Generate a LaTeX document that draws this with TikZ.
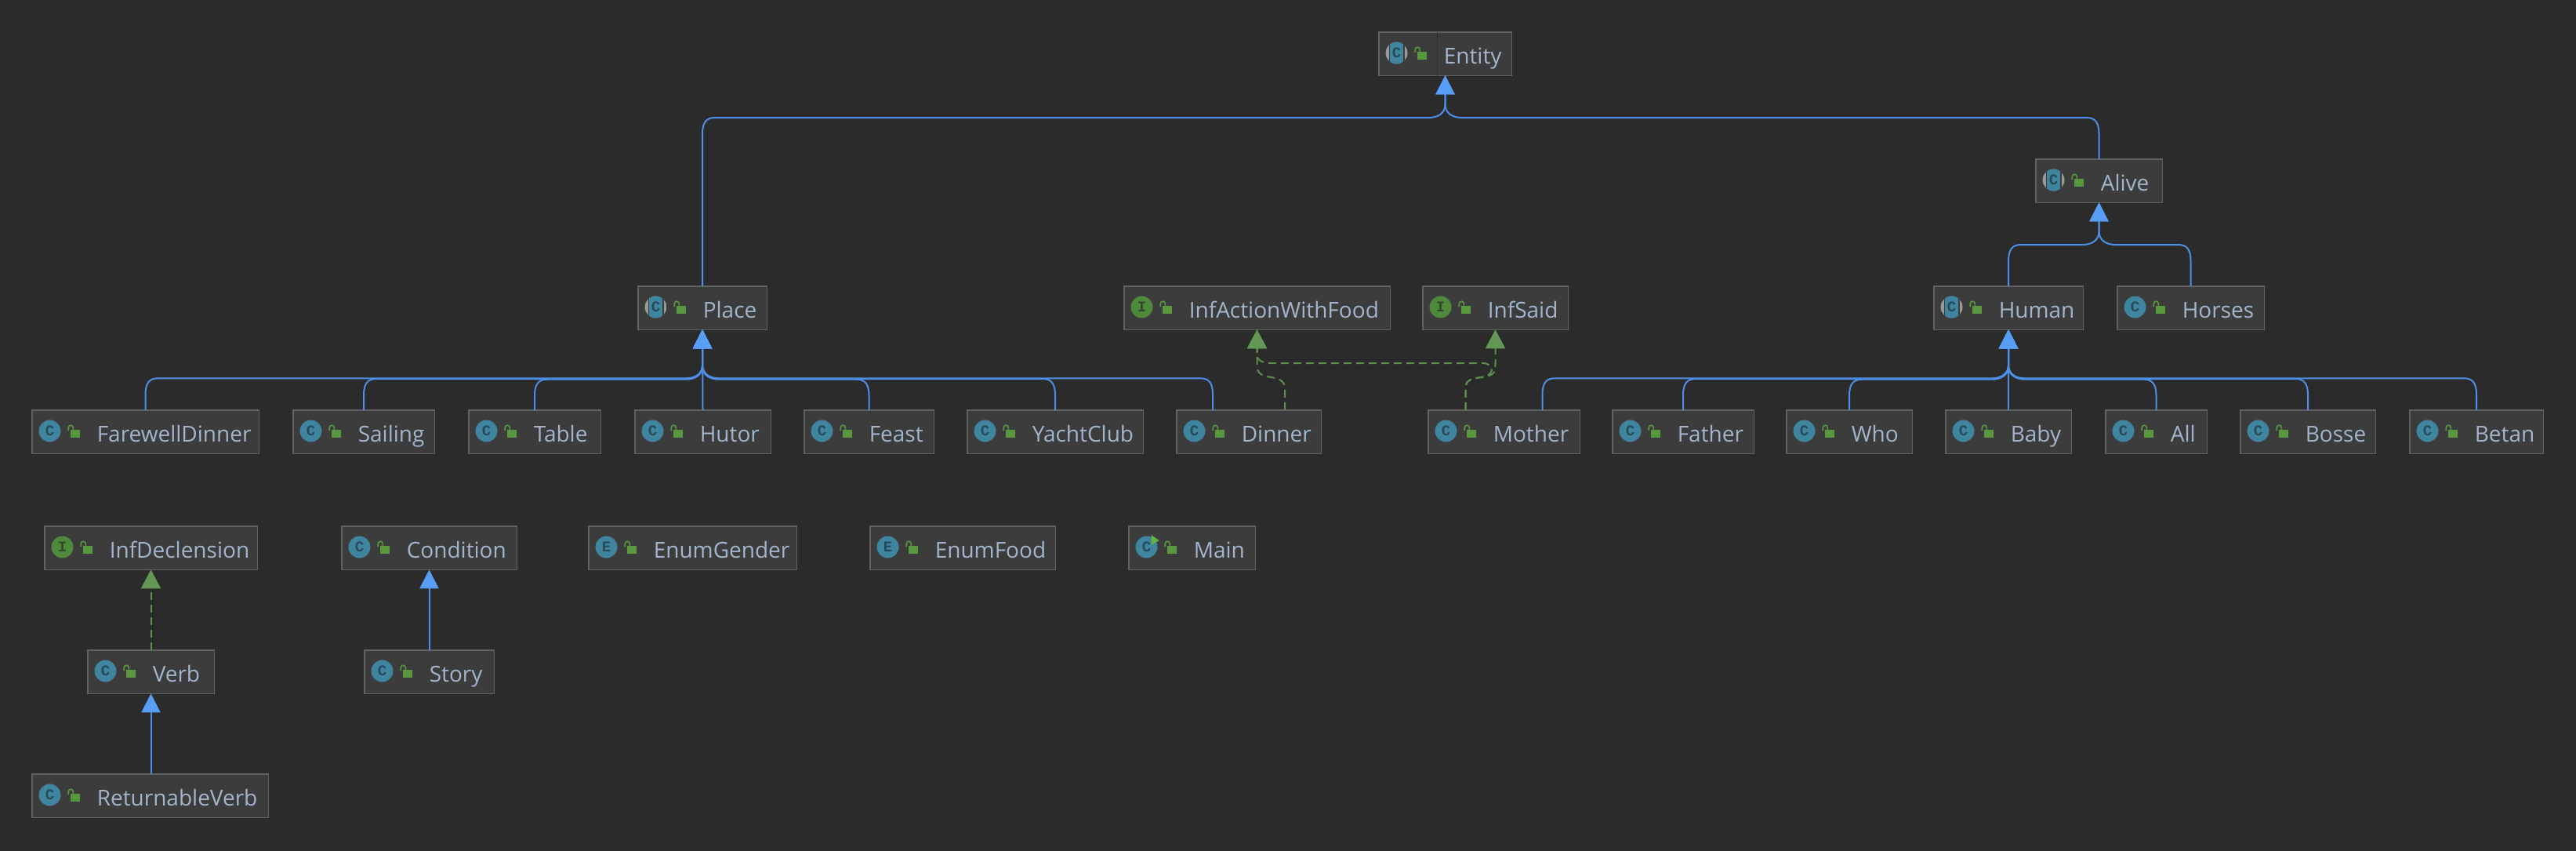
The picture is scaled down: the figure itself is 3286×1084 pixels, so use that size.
\documentclass[tikz,border=0pt]{standalone}
\usepackage{fontspec}
\setmainfont{Open Sans}
\newfontfamily\iconfont{Liberation Mono}
\usetikzlibrary{arrows.meta,calc}
\definecolor{bgc}{HTML}{2B2B2B}
\definecolor{boxfill}{HTML}{3C3C3C}
\definecolor{boxline}{HTML}{626262}
\definecolor{txt}{HTML}{A3B5CC}
\definecolor{bluel}{HTML}{4D8FE6}
\definecolor{blueh}{HTML}{589DF6}
\definecolor{greenl}{HTML}{5E8F50}
\definecolor{greenh}{HTML}{629755}
\definecolor{iconblue}{HTML}{40859F}
\definecolor{icongreen}{HTML}{4F8A3C}
\definecolor{lockg}{HTML}{5A983F}
\definecolor{icontxt}{HTML}{264A58}
\definecolor{icontxtg}{HTML}{2F4A28}
\definecolor{runmark}{HTML}{62B543}
\tikzset{
  x=1pt,y=-1pt,
  clsbox/.style={draw=boxline,fill=boxfill,line width=1.5pt,rectangle,anchor=north west,inner sep=0pt,outer sep=0pt,
    minimum height=55.5pt,text height=40.5pt,text depth=15pt,text=txt,font=\fontsize{28}{30}\selectfont},
  inh/.style={draw=bluel,line width=2pt,-{Triangle[length=24pt,width=24pt,fill=blueh,color=blueh]}},
  impl/.style={draw=greenl,line width=2pt,dash pattern=on 10pt off 6pt,-{Triangle[length=24pt,width=25pt,fill=greenh,color=greenh]}},
  iconletter/.style={circle,minimum size=28pt,inner sep=0pt,font=\iconfont\bfseries\fontsize{19}{19}\selectfont},
}
% name, x1, x2, y1, icon command, text
\newcommand\cls[6]{%
  \node[clsbox,minimum width=#3-#2-1.5] (#1) at (#2+0.75,#4+0.75) {\makebox[\dimexpr #3pt-#2pt-1.5pt\relax][l]{\hspace{83pt}#6}};
  \begin{scope}[shift={(#2,#4)}]
    #5{#1}
    \fill[lockg] (50,26.2) rectangle (62,36);
    \draw[lockg,line width=1.6pt] (47.2,27) -- (47.2,23.5) .. controls (47.2,19.2) and (53.4,19.2) .. (53.4,23.5) -- (53.4,26.5);
  \end{scope}}
\newcommand\icC[1]{\node[iconletter,fill=iconblue,text=icontxt] (#1i) at (23.5,27.5) {C};}
\newcommand\icE[1]{\node[iconletter,fill=iconblue,text=icontxt] (#1i) at (23.5,27.5) {E};}
\newcommand\icI[1]{\node[iconletter,fill=icongreen,text=icontxtg] (#1i) at (23.5,27.5) {I};}
\newcommand\icA[1]{%
  \begin{scope}
    \clip (23.5,27.5) circle[radius=14];
    \fill[gray!80!white] (9,13) rectangle (38,42);
    \fill[boxfill] (13.5,13) rectangle (33.5,42);
    \fill[iconblue] (15,13) rectangle (32,42);
  \end{scope}
  \node[iconletter,text=icontxt] (#1i) at (23.5,27.5) {C};}
\newcommand\icM[1]{%
  \node[iconletter,fill=iconblue,text=icontxt] (#1i) at (23.5,27.5) {C};
  \fill[runmark] (29.5,12) -- (39.5,19) -- (29.5,25) -- cycle;}
% bus from child left of parent / right of parent
\newcommand\busL[3]{%
  \draw[inh] (#1.north) -- (#1.north |- 0,{#3+21}) .. controls (#1.north |- 0,{#3+6}) and ($(#1.north |- 0,#3)+(5,0)$) .. ($(#1.north |- 0,#3)+(16,0)$)
    -- ($(#2.south |- 0,#3)+(-21,0)$) .. controls ($(#2.south |- 0,#3)+(-10,0)$) and (#2.south |- 0,{#3-5}) .. (#2.south |- 0,{#3-17}) -- (#2.south);}
\newcommand\busR[3]{%
  \draw[inh] (#1.north) -- (#1.north |- 0,{#3+21}) .. controls (#1.north |- 0,{#3+6}) and ($(#1.north |- 0,#3)+(-5,0)$) .. ($(#1.north |- 0,#3)+(-16,0)$)
    -- ($(#2.south |- 0,#3)+(21,0)$) .. controls ($(#2.south |- 0,#3)+(10,0)$) and (#2.south |- 0,{#3-5}) .. (#2.south |- 0,{#3-17}) -- (#2.south);}
\begin{document}
\begin{tikzpicture}
\useasboundingbox (0,0) rectangle (3286,1084);
\fill[bgc] (-5,-5) rectangle (3291,1089);
\cls{Entity}{1758}{1929}{40}{\icA}{Entity}
\draw[color=bgc!80!boxfill,line width=1pt] (1833,41) -- (1833,97);
\cls{Alive}{2596}{2759}{202}{\icA}{Alive}
\cls{Place}{813}{979}{364}{\icA}{Place}
\cls{InfActionWithFood}{1433}{1774}{364}{\icI}{InfActionWithFood}
\cls{InfSaid}{1814}{2001}{364}{\icI}{InfSaid}
\cls{Human}{2466}{2658}{364}{\icA}{Human}
\cls{Horses}{2700}{2889}{364}{\icC}{Horses}
\cls{FarewellDinner}{40}{331}{522}{\icC}{FarewellDinner}
\cls{Sailing}{373}{555}{522}{\icC}{Sailing}
\cls{Table}{597}{767}{522}{\icC}{Table}
\cls{Hutor}{809}{984}{522}{\icC}{Hutor}
\cls{Feast}{1025}{1192}{522}{\icC}{Feast}
\cls{YachtClub}{1233}{1459}{522}{\icC}{YachtClub}
\cls{Dinner}{1500}{1686}{522}{\icC}{Dinner}
\cls{Mother}{1821}{2016}{522}{\icC}{Mother}
\cls{Father}{2056}{2238}{522}{\icC}{Father}
\cls{Who}{2278}{2440}{522}{\icC}{Who}
\cls{Baby}{2481}{2643}{522}{\icC}{Baby}
\cls{All}{2685}{2816}{522}{\icC}{All}
\cls{Bosse}{2857}{3031}{522}{\icC}{Bosse}
\cls{Betan}{3073}{3245}{522}{\icC}{Betan}
\cls{InfDeclension}{56}{329}{670}{\icI}{InfDeclension}
\cls{Condition}{435}{660}{670}{\icC}{Condition}
\cls{EnumGender}{750}{1017}{670}{\icE}{EnumGender}
\cls{EnumFood}{1109}{1347}{670}{\icE}{EnumFood}
\cls{Main}{1439}{1602}{670}{\icM}{Main}
\cls{Verb}{111}{274}{828}{\icC}{Verb}
\cls{Story}{464}{631}{828}{\icC}{Story}
\cls{ReturnableVerb}{40}{343}{986}{\icC}{ReturnableVerb}
% inheritance
\busL{Place}{Entity}{150}
\busR{Alive}{Entity}{150}
\busL{Human}{Alive}{312}
\busR{Horses}{Alive}{312}
\busL{FarewellDinner}{Place}{482.3}
\busL{Sailing}{Place}{483}
\busL{Table}{Place}{483.7}
\draw[inh] (Hutor.north) -- (Place.south);
\busR{Feast}{Place}{483.7}
\busR{YachtClub}{Place}{483}
\coordinate (dinBlue) at ([xshift=-46pt]Dinner.north);
\draw[inh] (dinBlue) -- (dinBlue |- 0,503) .. controls (dinBlue |- 0,488) and ($(dinBlue |- 0,482.3)+(-5,0)$) .. ($(dinBlue |- 0,482.3)+(-16,0)$)
  -- ($(Place.south |- 0,482.3)+(21,0)$) .. controls ($(Place.south |- 0,482.3)+(10,0)$) and (Place.south |- 0,477) .. (Place.south |- 0,465) -- (Place.south);
\coordinate (motBlue) at ([xshift=49pt]Mother.north);
\draw[inh] (motBlue) -- (motBlue |- 0,503) .. controls (motBlue |- 0,488) and ($(motBlue |- 0,482.3)+(5,0)$) .. ($(motBlue |- 0,482.3)+(16,0)$)
  -- ($(Human.south |- 0,482.3)+(-21,0)$) .. controls ($(Human.south |- 0,482.3)+(-10,0)$) and (Human.south |- 0,477) .. (Human.south |- 0,465) -- (Human.south);
\busL{Father}{Human}{483}
\busL{Who}{Human}{483.7}
\draw[inh] (Baby.north) -- (Human.south);
\busR{All}{Human}{483.7}
\busR{Bosse}{Human}{483}
\busR{Betan}{Human}{482.3}
\draw[inh] (ReturnableVerb.north -| Verb.north) -- (Verb.south);
\draw[inh] (Story.north) -- (Condition.south);
% implementation
\draw[impl] (Verb.north -| InfDeclension.south) -- (InfDeclension.south);
\coordinate (dinGreen) at ([xshift=46pt]Dinner.north);
\coordinate (motGreen) at ([xshift=-49pt]Mother.north);
\draw[impl] (dinGreen) -- (dinGreen |- 0,496) .. controls (dinGreen |- 0,486) and ($(dinGreen |- 0,483)+(-6,0)$) .. ($(dinGreen |- 0,482)+(-17,-1)$)
  .. controls (InfActionWithFood.south |- 0,479) and (InfActionWithFood.south |- 0,472) .. (InfActionWithFood.south |- 0,462) -- (InfActionWithFood.south);
\draw[impl] (motGreen) -- (motGreen |- 0,496) .. controls (motGreen |- 0,486) and ($(motGreen |- 0,483)+(4,0)$) .. ($(motGreen |- 0,482)+(20,-1)$)
  .. controls (InfSaid.south |- 0,479) and (InfSaid.south |- 0,474) .. (InfSaid.south |- 0,462) -- (InfSaid.south);
\draw[impl] (motGreen) -- (motGreen |- 0,496) .. controls (motGreen |- 0,486) and ($(motGreen |- 0,483)+(4,0)$) .. ($(motGreen |- 0,482)+(20,-1)$)
  .. controls ($(InfSaid.south |- 0,479)+(-2,0)$) and ($(InfSaid.south |- 0,466)+(0,0)$) .. ($(InfSaid.south |- 0,463)+(-14,0)$)
  -- ($(InfActionWithFood.south |- 0,463)+(18,0)$) .. controls ($(InfActionWithFood.south |- 0,463)+(8,0)$) and (InfActionWithFood.south |- 0,460) .. (InfActionWithFood.south |- 0,452) -- (InfActionWithFood.south);
\end{tikzpicture}
\end{document}
